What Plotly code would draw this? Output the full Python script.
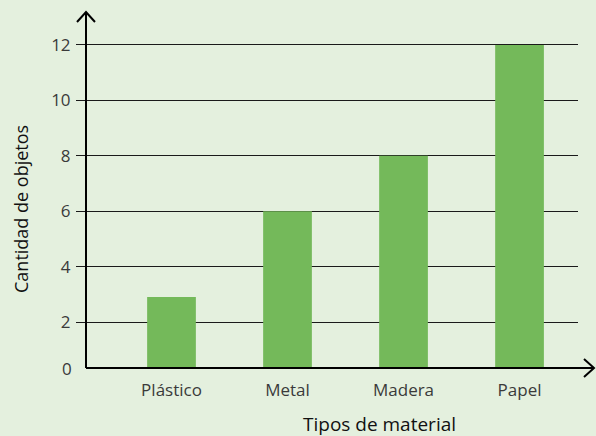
import plotly.graph_objects as go

# Data
categories = ["Plástico", "Metal", "Madera", "Papel"]
values = [2.9, 6, 8, 12]
y_ticks = [2, 4, 6, 8, 10, 12]
y_tick_labels = ["2", "4", "6", "8", "10", "12"]
x_title = "Tipos de material"
y_title = "Cantidad de objetos"

# Styling / geometry
W, H = 596, 436
L, R, T, B = 86, 18, 40, 68
plot_w = W - L - R
plot_h = H - T - B
bg = "#e4f0de"
bar_color = "#74b95a"
y_min, y_max = 0.34, 12.18
x_min, x_max = -0.737, 3.504


def px_x(px):
    return (px - L) / plot_w


def px_y(py):
    return (H - B - py) / plot_h


fig = go.Figure(
    go.Bar(
        x=categories,
        y=values,
        width=0.42,
        marker=dict(color=bar_color, line=dict(width=0)),
        hoverinfo="skip",
    )
)

shapes = []
line_style = dict(color="black", width=2)
# y axis with arrow
shapes.append(dict(type="line", xref="paper", yref="paper", x0=0, x1=0,
                   y0=0, y1=px_y(12), line=line_style))
shapes.append(dict(type="path", xref="paper", yref="paper",
                   path=f"M {px_x(77)},{px_y(22)} L {px_x(86)},{px_y(12)} L {px_x(95)},{px_y(22)}",
                   line=line_style))
# x axis with arrow
shapes.append(dict(type="line", xref="paper", yref="paper", x0=0, x1=px_x(594),
                   y0=0, y1=0, line=line_style))
shapes.append(dict(type="path", xref="paper", yref="paper",
                   path=f"M {px_x(584)},{px_y(359)} L {px_x(594)},{px_y(368)} L {px_x(584)},{px_y(377)}",
                   line=line_style))

font_family = "Open Sans"
annotations = [
    dict(text="0", xref="paper", yref="paper", x=0, y=0, xanchor="right",
         yanchor="middle", xshift=-12, showarrow=False,
         font=dict(family=font_family, size=17, color="#3a3a3a")),
    dict(text=x_title, xref="paper", yref="paper", x=px_x(379), y=px_y(424),
         xanchor="center", yanchor="middle", showarrow=False,
         font=dict(family=font_family, size=19, color="#111")),
    dict(text=y_title, xref="paper", yref="paper", x=px_x(21), y=px_y(209),
         xanchor="center", yanchor="middle", textangle=-90, showarrow=False,
         font=dict(family=font_family, size=18, color="#111")),
]

fig.update_layout(
    width=W, height=H,
    margin=dict(l=L, r=R, t=T, b=B, pad=0),
    paper_bgcolor=bg, plot_bgcolor=bg,
    showlegend=False,
    shapes=shapes,
    annotations=annotations,
    font=dict(family=font_family, size=17, color="#3a3a3a"),
    xaxis=dict(range=[x_min, x_max], showgrid=False, zeroline=False,
               showline=False, ticks="", ticklabelstandoff=10,
               tickfont=dict(size=17, color="#3a3a3a")),
    yaxis=dict(range=[y_min, y_max], tickvals=y_ticks, ticktext=y_tick_labels,
               showgrid=True, gridcolor="#1a1a1a", gridwidth=1.2,
               zeroline=False, showline=False, ticks="outside", ticklen=9,
               tickcolor="#1a1a1a", tickwidth=1.2, ticklabelstandoff=2,
               tickfont=dict(size=17, color="#3a3a3a")),
)

fig.write_html("out.html")
